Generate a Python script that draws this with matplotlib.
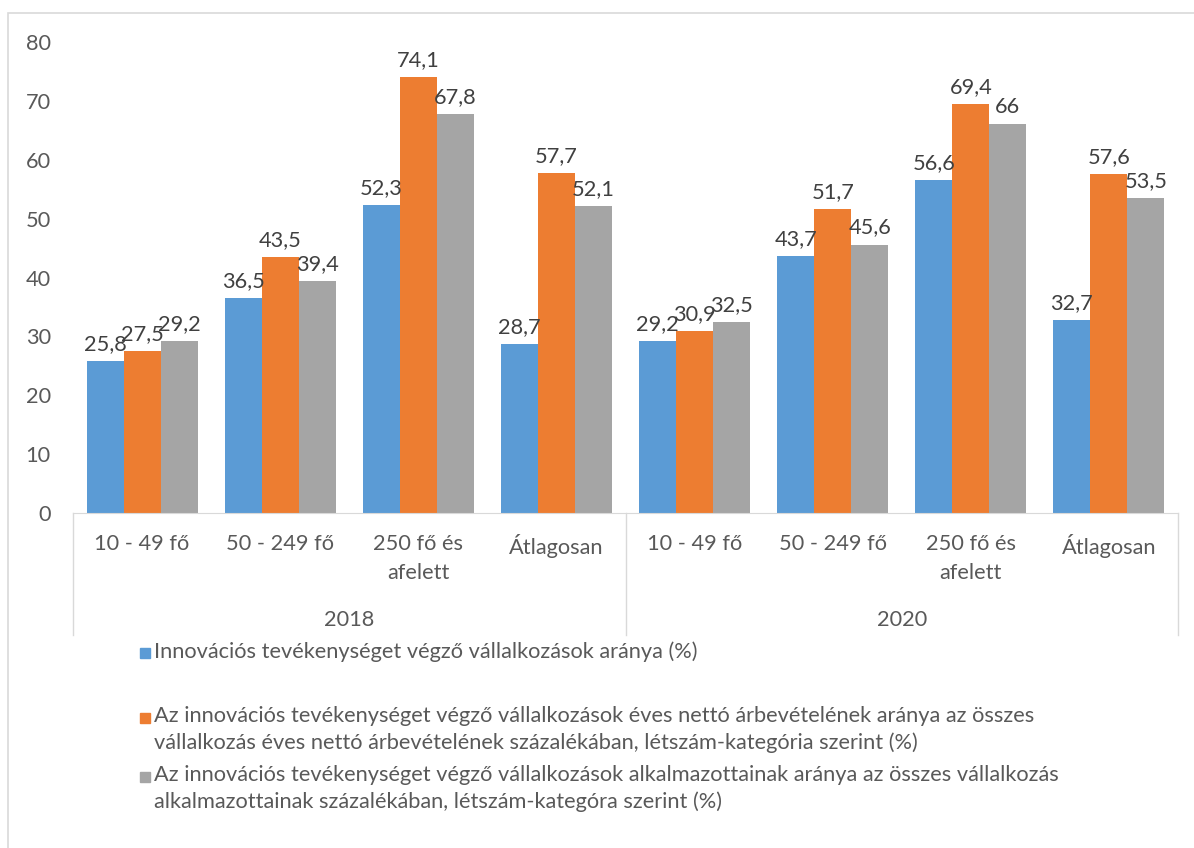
import matplotlib.pyplot as plt
from matplotlib.patches import Rectangle
from matplotlib.transforms import blended_transform_factory
import numpy as np

plt.rcParams['font.family'] = ['Lato', 'DejaVu Sans']

years = ['2018', '2020']
categories = ['10 - 49 fő', '50 - 249 fő', '250 fő és\nafelett', 'Átlagosan']
innov = [25.8, 36.5, 52.3, 28.7, 29.2, 43.7, 56.6, 32.7]
revenue = [27.5, 43.5, 74.1, 57.7, 30.9, 51.7, 69.4, 57.6]
employees = [29.2, 39.4, 67.8, 52.1, 32.5, 45.6, 66.0, 53.5]
labels = [
    'Innovációs tevékenységet végző vállalkozások aránya (%)',
    'Az innovációs tevékenységet végző vállalkozások éves nettó árbevételének aránya az összes\n'
    'vállalkozás éves nettó árbevételének százalékában, létszám-kategória szerint (%)',
    'Az innovációs tevékenységet végző vállalkozások alkalmazottainak aránya az összes vállalkozás\n'
    'alkalmazottainak százalékában, létszám-kategóra szerint (%)',
]
colors = ['#5B9BD5', '#ED7D31', '#A5A5A5']
txt = '#595959'
fs = 15.7

W, H = 1194, 848
fig = plt.figure(figsize=(W / 100, H / 100), dpi=100)
ax = fig.add_axes([73 / W, 1 - 513 / H, (1178 - 73) / W, (513 - 42) / H])

x = np.arange(len(innov))
bw = 0.268
for i, (vals, c) in enumerate(zip([innov, revenue, employees], colors)):
    bars = ax.bar(x + (i - 1) * bw, vals, bw, color=c)
    for b, v in zip(bars, vals):
        s = ('%g' % v).replace('.', ',')
        ax.annotate(s, (b.get_x() + b.get_width() / 2, v), xytext=(0, 5),
                    textcoords='offset points', ha='center', va='bottom',
                    fontsize=fs, color='#404040')

ax.set_xlim(-0.5, 7.5)
ax.set_ylim(0, 80)
ax.set_yticks(range(0, 81, 10))
ax.tick_params(axis='y', length=0, pad=16, labelsize=fs, labelcolor=txt)
ax.set_xticks([])
for s in ['top', 'right', 'left']:
    ax.spines[s].set_visible(False)
ax.spines['bottom'].set_color('#D9D9D9')

# multi-level category axis
tr = blended_transform_factory(ax.transData, ax.transAxes)
ah = 513 - 42
for xv in [-0.5, 3.5, 7.5]:
    ax.plot([xv, xv], [0, -(635 - 513) / ah], color='#D9D9D9', lw=1,
            transform=tr, clip_on=False)
for k, xv in enumerate(x):
    ax.text(xv, -(534 - 513) / ah, categories[k % 4], transform=tr, ha='center',
            va='top', fontsize=fs, color=txt, linespacing=1.55)
for j, yr in enumerate(years):
    ax.text(1.5 + 4 * j, -(620 - 513) / ah, yr, transform=tr, ha='center',
            va='center', fontsize=fs, color=txt)

# legend
rows = [653, 718, 777]
for c, lab, yy in zip(colors, labels, rows):
    fig.patches.append(Rectangle((140 / W, 1 - (yy + 5) / H), 10 / W, 10 / H,
                                 transform=fig.transFigure, color=c))
    fig.text(154 / W, 1 - (yy - 12) / H, lab, ha='left', va='top', fontsize=fs,
             color=txt, linespacing=1.4)

# outer chart frame
fig.patches.append(Rectangle((8 / W, -0.01), 1.02, 1 - 13 / H + 0.01,
                             transform=fig.transFigure, fill=False,
                             edgecolor='#D9D9D9', lw=1.2))

fig.savefig('out.png', dpi=100)
